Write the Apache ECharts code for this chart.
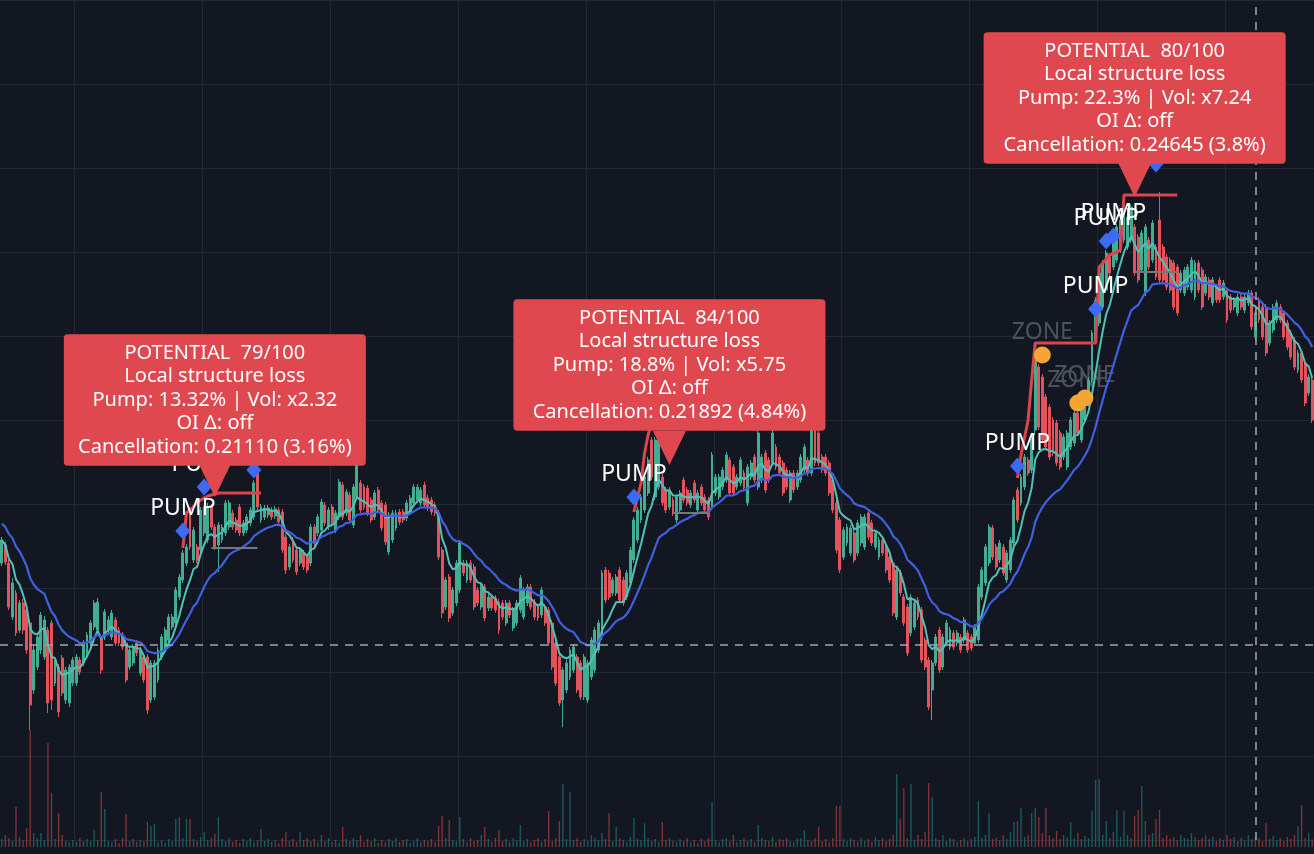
<!DOCTYPE html>
<html><head><meta charset="utf-8">
<script src="https://cdn.jsdelivr.net/npm/echarts@6/dist/echarts.min.js"></script>
<style>html,body{margin:0;padding:0;background:#131722;overflow:hidden}#c{width:1314px;height:854px}</style>
</head><body><div id="c"></div>
<script>
// ---- price data (one value per candle) ----
const opens = [
277,295,277,223,247,210,237,230,217,150,173,190,183,210,217,157,173,182,140,137,
157,157,180,177,187,197,213,210,203,203,210,203,220,210,205,197,173,177,197,167,
183,183,140,143,160,183,193,200,213,217,243,260,277,330,280,293,290,307,300,333,
313,295,300,307,313,327,320,333,307,310,317,323,367,
320,323,325,330,324,330,328,303,273,300,290,277,287,283,277,313,307,310,335,313,
333,310,323,355,327,345,315,343,357,353,352,340,323,350,337,335,288,300,312,328,
328,322,328,337,340,337,355,342,340,335,327,290,233,263,227,237,250,277,260,277,
273,250,233,253,232,243,242,238,237,217,237,212,217,230,223,237,253,
238,233,225,233,230,217,197,183,140,150,163,170,183,177,143,140,163,170,190,203,
270,267,247,247,270,260,243,257,280,300,320,330,347,400,343,353,363,350,333,340,
320,330,360,350,335,357,330,353,343,340,333,347,343,353,360,380,373,353,357,367,
337,363,383,353,360,387,380,377,393,383,377,370,340,367,353,
360,370,380,367,410,407,383,383,377,360,337,320,283,297,287,307,287,297,293,327,
317,293,283,300,293,283,277,223,267,243,233,207,213,240,230,200,180,150,177,210,
173,197,193,207,197,203,200,207,203,197,200,243,257,277,312,293,280,293,260,270,
297,350,337,353,380,370,410,
473,463,443,433,420,417,407,383,373,393,397,427,400,420,437,460,500,517,533,550,
583,573,580,590,600,593,600,613,603,570,547,600,580,593,620,593,583,580,577,573,
550,547,553,550,543,577,570,547,560,537,553,560,543,550,543,533,527,543,530,537,
547,503,540,533,533,497,510,520,533,527,517,507,500,470,487,477,447,460];
const closes = [
300,278,233,257,207,237,210,190,135,190,203,225,220,137,140,177,128,147,170,173,
180,183,168,197,205,217,237,238,170,228,220,227,197,197,193,160,190,193,187,190,
160,130,177,177,190,203,210,223,223,250,263,287,293,293,310,280,330,330,333,313,
293,315,313,337,337,313,310,307,317,323,330,357,333,
333,332,332,323,331,318,290,270,293,280,268,290,273,270,313,297,323,338,317,330,
317,327,358,323,348,320,353,375,330,333,327,320,347,330,312,298,325,327,327,318,
320,337,342,353,353,350,335,332,328,327,283,227,260,222,250,277,297,267,277,260,
233,237,253,222,243,232,230,210,223,237,225,230,237,262,250,253,233,
223,222,250,217,197,173,157,137,170,177,190,193,150,143,183,177,200,210,217,267,
240,243,260,263,240,237,267,290,320,330,343,363,380,363,400,400,337,330,350,327,
343,347,340,337,347,340,347,337,330,323,385,363,363,370,385,347,347,363,380,352,
373,377,360,407,383,350,360,407,373,367,347,353,367,350,367,
383,393,367,417,377,377,370,367,347,330,290,270,310,313,312,280,317,323,323,303,
297,307,300,287,270,260,227,270,247,217,187,243,237,223,180,173,133,177,203,170,
203,217,210,193,207,190,220,190,192,213,253,270,293,313,283,273,297,267,287,300,
340,320,363,383,367,403,480,
413,400,393,383,387,377,373,403,407,420,427,407,433,447,460,507,540,567,577,587,
567,600,613,620,630,623,633,567,560,607,613,573,617,563,560,560,553,550,533,527,
567,570,573,580,577,550,533,563,543,560,540,540,557,520,530,540,543,533,543,547,
513,527,520,503,487,517,533,537,520,503,493,483,473,487,460,437,463,420];
const highs = [
303,298,280,262,250,240,241,233,220,195,206,228,224,213,220,180,176,185,173,176,
183,186,183,200,208,220,240,242,206,231,224,230,223,213,208,200,193,196,200,193,
186,186,180,180,193,206,213,226,226,253,266,290,296,333,313,296,333,334,337,336,
316,318,316,340,340,330,323,336,320,326,333,360,370,
336,335,335,333,334,333,331,306,296,303,293,293,290,286,316,316,326,341,338,333,
336,330,361,358,351,348,356,380,360,356,355,343,350,353,340,338,328,330,330,331,
331,340,345,356,356,353,358,345,343,338,330,293,263,266,253,280,300,280,280,280,
276,253,256,256,246,246,245,241,240,240,240,233,240,265,253,256,256,
241,236,253,236,233,220,200,186,173,180,193,196,186,180,186,180,203,213,220,270,
273,270,263,266,273,263,270,293,323,333,346,366,383,403,403,403,366,353,353,343,
346,350,363,353,350,360,350,356,346,343,388,366,366,373,388,383,376,366,383,370,
376,380,386,410,386,390,383,410,396,386,380,373,370,370,370,
386,396,383,420,413,410,386,386,380,363,340,323,313,316,315,310,320,326,326,330,
320,310,303,303,296,286,280,273,270,246,236,246,240,243,233,203,183,180,206,213,
206,220,213,210,210,206,223,210,206,216,256,273,296,316,315,296,300,296,290,303,
343,353,366,386,383,406,498,
476,466,446,436,423,420,410,406,410,423,430,430,436,450,463,510,543,570,580,590,
586,603,616,623,633,626,636,616,606,610,616,603,620,596,648,596,586,583,580,576,
570,573,576,583,580,580,573,566,563,563,556,563,560,553,546,543,546,546,546,550,
550,530,543,536,536,520,536,540,536,530,520,510,503,490,490,480,466,463];
const lows = [
274,275,230,220,204,207,206,186,110,146,170,186,180,127,130,154,123,144,136,133,
154,154,165,174,184,194,210,206,166,200,207,200,194,194,190,157,170,174,184,164,
157,126,137,140,157,180,190,197,210,214,240,257,274,290,277,277,287,304,297,310,
290,268,297,304,310,310,307,304,304,307,314,320,330,
317,320,322,320,321,315,287,266,270,277,265,274,270,267,274,294,304,307,314,310,
314,307,320,320,324,317,312,340,327,330,324,317,320,327,309,295,285,297,309,315,
317,319,325,334,337,334,332,329,325,324,280,222,230,218,224,234,247,264,257,257,
230,234,230,219,229,229,227,206,220,214,222,209,214,227,220,234,230,
220,219,222,214,194,170,154,134,113,147,160,167,147,140,140,137,160,167,187,200,
237,240,244,244,237,234,240,254,277,297,317,327,344,360,340,350,334,327,330,324,
317,327,337,334,332,337,327,334,327,320,330,344,340,350,357,344,344,350,354,349,
334,360,357,350,357,347,357,374,370,364,344,350,337,347,350,
357,367,364,364,374,374,367,364,344,327,287,267,280,294,284,277,284,294,290,300,
294,290,280,284,267,257,224,220,244,214,184,204,210,220,177,170,130,120,174,167,
170,194,190,190,194,187,197,187,189,194,197,240,254,274,280,270,277,264,257,267,
294,317,334,350,364,367,405,
410,397,390,380,384,374,370,380,370,390,394,404,397,417,434,457,497,514,530,547,
564,570,577,587,597,590,597,564,557,567,544,570,577,560,557,557,550,547,530,524,
547,544,550,547,540,547,530,544,540,534,537,537,540,517,527,530,524,530,527,534,
510,500,517,500,484,494,507,517,517,500,490,480,470,467,457,434,444,417];
const volumes = [
8,12,9,6,40,10,7,19,117,14, 9,14,7,104,54,8,34,12,6,5, 7,5,9,6,8,6,17,7,55,38,
6,5,8,4,9,33,6,8,5,7, 6,25,21,23,5,7,4,8,6,28, 30,9,28,28,8,6,10,15,7,9,
13,30,8,6,9,5,7,4,8,6, 9,5,7,18,6,8,5,7,4,9, 15,6,8,5,15,7,9,6,8,5,
12,6,9,5,7,4,20,8,6,9, 7,12,5,8,6,9,4,7,5,8, 6,9,5,7,8,4,6,9,5,7,
6,8,5,21,31,9,27,7,6,30, 8,5,9,6,7,12,20,8,5,9, 17,6,8,5,9,7,22,6,8,5,
7,9,5,8,36,6,9,26,63,8, 55,7,9,5,8,6,12,9,7,14, 8,34,6,20,9,7,5,10,29,8,
7,24,9,6,8,5,25,7,9,6, 5,8,6,9,5,7,4,8,6,9, 45,7,5,8,9,6,12,5,7,9,
6,8,5,22,9,7,6,10,5,8, 7,9,6,5,8,9,17,7,6,9, 20,6,8,5,9,41,41,8,6,9,
7,5,9,6,8,5,10,7,9,6, 8,12,73,28,59,9,63,7,12,8, 15,64,50,9,7,12,6,9,8,5,
7,9,6,8,10,46,9,12,34,8, 9,7,12,8,15,25,26,39,10,12, 34,39,30,14,39,12,9,16,8,12,
10,25,9,14,8,11,9,36,67,68, 12,26,9,15,37,10,36,12,9,31, 37,61,26,12,14,28,37,9,12,8,
10,7,12,9,8,14,10,7,9,12, 8,10,6,9,7,12,8,10,6,9, 7,12,8,10,9,6,24,8,11,7,
9,6,10,8,12,21,42,9,14,8];

// moving-average starting levels read at the left edge
const fastSeed = 300, slowSeed = 318;

// ---- annotations ----
const pumpIdx = [51, 57, 71, 178, 286, 308, 311, 313, 325];
const pumpVal = [309, 353, 370, 343, 374, 531, 599, 604, 676];
const zoneIdx = [293, 303, 305];
const zoneVal = [485, 437, 442];
const trail1Idx = [51, 52, 53, 56, 58, 61, 73];
const trail1Val = [292, 327, 330, 340, 344, 347, 347];
const trail2Idx = [178, 180, 181, 182, 183, 195];
const trail2Val = [328, 357, 387, 405, 418, 418];
const trail3Idx = [286, 287, 289, 290, 291, 308, 309, 312, 314, 315, 316, 331];
const trail3Val = [362, 385, 420, 460, 497, 497, 573, 585, 588, 590, 645, 645];
const cancelIdx = [[59, 72], [189, 199], [319, 331]];
const cancelVal = [292, 327, 568];
const boxIdx = [60, 188, 319];
const boxVal = [343, 375, 643];
const boxTexts = [
  ['POTENTIAL  79/100', 'Local structure loss', 'Pump: 13.32% | Vol: x2.32', 'OI \u0394: off', 'Cancellation: 0.21110 (3.16%)'],
  ['POTENTIAL  84/100', 'Local structure loss', 'Pump: 18.8% | Vol: x5.75', 'OI \u0394: off', 'Cancellation: 0.21892 (4.84%)'],
  ['POTENTIAL  80/100', 'Local structure loss', 'Pump: 22.3% | Vol: x7.24', 'OI \u0394: off', 'Cancellation: 0.24645 (3.8%)']
];
const crossPrice = 195, crossIdx = 353;

// ---- build ----
const UP = '#43ad92', DOWN = '#e4525b', BOX = '#e04850';
const categories = closes.map((_, i) => String(i));
const candleData = closes.map((c, i) => [opens[i], c, lows[i], highs[i]]);
const volData = volumes.map((v, i) => ({
  value: v,
  itemStyle: { color: closes[i] >= opens[i] ? 'rgba(38,166,154,0.5)' : 'rgba(239,83,80,0.5)' }
}));
function ema(src, period, seed) {
  const k = 2 / (period + 1); let e = seed;
  return src.map(v => { e = e + k * (v - e); return Math.round(e * 10) / 10; });
}
const pair = (idx, val) => idx.map((x, i) => [x, val[i]]);
const font = 'Noto Sans';
const hidden = { axisLine: { show: false }, axisTick: { show: false }, axisLabel: { show: false } };
const gridColor = '#242834';

const trailSeries = [[trail1Idx, trail1Val], [trail2Idx, trail2Val], [trail3Idx, trail3Val]].map(t => ({
  type: 'line', data: pair(t[0], t[1]), showSymbol: false, silent: true, z: 4,
  lineStyle: { color: '#dc454d', width: 3 }
}));
const cancelSeries = cancelIdx.map((r, i) => ({
  type: 'line', data: [[r[0], cancelVal[i]], [r[1], cancelVal[i]]], showSymbol: false, silent: true, z: 4,
  lineStyle: { color: '#75787f', width: 2 }
}));
const boxWidths = [286, 296, 286];
const boxOffsets = [-97, -100, -99];

const option = {
  backgroundColor: '#131722',
  animation: false,
  grid: [
    { left: 0, right: 0, top: 0, height: 840 },
    { left: 0, right: 0, top: 717, height: 130 }
  ],
  xAxis: [
    Object.assign({ type: 'category', data: categories, boundaryGap: true,
      splitLine: { show: true, interval: (i) => (i - 21) % 36 === 0, lineStyle: { color: gridColor, width: 1 } } }, hidden),
    Object.assign({ type: 'category', gridIndex: 1, data: categories, boundaryGap: true, splitLine: { show: false } }, hidden)
  ],
  yAxis: [
    Object.assign({ type: 'value', min: 0, max: 840, interval: 84,
      splitLine: { show: true, lineStyle: { color: gridColor, width: 1 } } }, hidden),
    Object.assign({ type: 'value', gridIndex: 1, min: 0, max: 130, splitLine: { show: false } }, hidden)
  ],
  series: [
    { type: 'bar', xAxisIndex: 1, yAxisIndex: 1, data: volData, barWidth: 1.3, silent: true, z: 1 },
    { type: 'scatter', data: pair(zoneIdx, zoneVal), symbolSize: 17, z: 1, silent: true,
      itemStyle: { color: 'rgba(0,0,0,0)', opacity: 1 },
      label: { show: true, formatter: 'ZONE', position: 'top', distance: 3, color: '#4e525d', fontSize: 23, fontFamily: font } },
    { type: 'candlestick', data: candleData, barWidth: 2.4, z: 2, silent: true,
      itemStyle: { color: UP, color0: DOWN, borderColor: UP, borderColor0: DOWN, borderWidth: 1 },
      markLine: { silent: true, symbol: ['none', 'none'], label: { show: false },
        lineStyle: { color: '#a4a7b0', type: [8, 7], width: 1.5 },
        data: [{ yAxis: crossPrice }, { xAxis: crossIdx }] } },
    { type: 'line', data: ema(closes, 8, fastSeed), showSymbol: false, silent: true, z: 3,
      lineStyle: { color: '#52c1b6', width: 2 } },
    { type: 'line', data: ema(closes, 22, slowSeed), showSymbol: false, silent: true, z: 3,
      lineStyle: { color: '#3f60e0', width: 2.2 } },
    ...trailSeries,
    ...cancelSeries,
    { type: 'scatter', data: pair(zoneIdx, zoneVal), symbol: 'circle', symbolSize: 17, z: 5, silent: true,
      itemStyle: { color: '#f4a534', opacity: 1 } },
    { type: 'scatter', data: pair(pumpIdx, pumpVal), symbol: 'diamond', symbolSize: [15, 17], z: 5, silent: true,
      itemStyle: { color: '#3d6af5', opacity: 1 },
      label: { show: true, formatter: 'PUMP', position: 'top', distance: 3, color: '#ffffff', fontSize: 23, fontFamily: font } },
    { type: 'scatter', data: pair(boxIdx, boxVal), symbol: 'triangle', symbolSize: [33, 34], symbolRotate: 180,
      symbolOffset: [0, -17], z: 9, silent: true, itemStyle: { color: BOX, opacity: 1 } },
    { type: 'scatter', z: 10, silent: true, symbolSize: 1, itemStyle: { color: 'rgba(0,0,0,0)', opacity: 1 },
      data: boxIdx.map((x, i) => ({ value: [x, boxVal[i]],
        label: { offset: [0, boxOffsets[i]], width: boxWidths[i] } })),
      label: { show: true, position: 'inside', formatter: p => boxTexts[p.dataIndex].join('\n'),
        color: '#ffffff', opacity: 1, fontSize: 20, fontFamily: font, lineHeight: 23.5, align: 'center',
        backgroundColor: BOX, padding: [7, 8, 7, 8], borderRadius: 4 } }
  ]
};
const chart = echarts.init(document.getElementById('c'));
chart.setOption(option);
</script>
</body></html>
